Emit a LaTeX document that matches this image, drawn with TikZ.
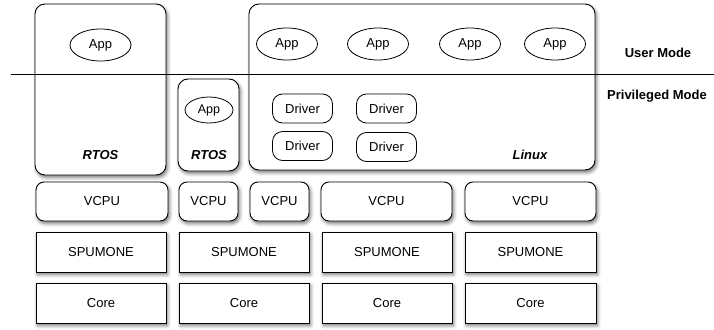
\documentclass[tikz,border=0pt]{standalone}
\usepackage{fontspec}
\setmainfont{Liberation Sans}
\usetikzlibrary{shapes.geometric,shadows.blur}
\begin{document}
\begin{tikzpicture}[x=1pt,y=-1pt,
  every node/.style={font=\fontsize{13}{15}\selectfont, inner sep=0pt},
  shad/.style={blur shadow={shadow xshift=1.5pt, shadow yshift=-2.5pt, shadow blur radius=3.5pt, shadow opacity=55}},
  osbox/.style={draw, line width=0.9pt, fill=white, rounded corners=10pt, shad},
  vbox/.style={draw, line width=0.9pt, fill=white, rounded corners=8pt, minimum height=39pt, shad},
  hwbox/.style={draw, line width=0.9pt, fill=white, minimum height=40pt, shad},
  app/.style={draw, ellipse, line width=0.8pt, fill=white, minimum width=61pt, minimum height=32pt},
  sapp/.style={draw, ellipse, line width=0.8pt, fill=white, minimum width=48pt, minimum height=26pt, font=\fontsize{12.5}{14}\selectfont},
  drv/.style={draw, line width=0.8pt, fill=white, rounded corners=10pt, minimum width=60pt, minimum height=29pt},
  lbl/.style={font=\fontsize{13}{15}\selectfont\bfseries\itshape},
  mode/.style={font=\fontsize{13}{15}\selectfont\bfseries}]
\useasboundingbox (0,0) rectangle (714,329);
% OS boxes
\node[osbox, minimum width=131pt, minimum height=171pt] (rtos1) at (100.5,89.5) {};
\node[osbox, minimum width=61pt, minimum height=92pt] (rtos2) at (208.5,125) {};
\node[osbox, minimum width=346pt, minimum height=166pt] (linux) at (422,87) {};
% mode line
\coordinate (lineL) at (11,74);
\coordinate (lineR) at (714,74);
\draw[line width=0.8pt] (lineL) -- (lineR);
% apps
\node[app] (a1) at (100.5,45) {App};
\node[sapp] (a2) at (209,110) {App};
\node[app] (a3) at (287,44) {App};
\node[app] (a4) at (378,44) {App};
\node[app] (a5) at (470,44) {App};
\node[app] (a6) at (555,44) {App};
% drivers
\node[drv] (d1) at (302.5,108.5) {Driver};
\node[drv] (d2) at (386.5,108.5) {Driver};
\node[drv] (d3) at (302.5,146) {Driver};
\node[drv] (d4) at (386.5,147) {Driver};
% labels
\node[lbl] (l1) at (100.5,155) {RTOS};
\node[lbl] (l2) at (209,155) {RTOS};
\node[lbl] (l3) at (530,155) {Linux};
\node[mode] (um) at (658,53) {User Mode};
\node[mode] (pm) at (657,96) {Privileged Mode};
% VCPU
\node[vbox, minimum width=132pt] (v1) at (102,201.5) {VCPU};
\node[vbox, minimum width=59pt] (v2) at (208.5,201.5) {VCPU};
\node[vbox, minimum width=59pt] (v3) at (279.5,201.5) {VCPU};
\node[vbox, minimum width=131pt] (v4) at (386.5,201.5) {VCPU};
\node[vbox, minimum width=131pt] (v5) at (530.5,201.5) {VCPU};
% SPUMONE
\node[hwbox, minimum width=130pt] (s1) at (101,252) {SPUMONE};
\node[hwbox, minimum width=130pt] (s2) at (244,252) {SPUMONE};
\node[hwbox, minimum width=130pt] (s3) at (387,252) {SPUMONE};
\node[hwbox, minimum width=131pt] (s4) at (530.5,252) {SPUMONE};
% Core
\node[hwbox, minimum width=130pt] (c1) at (101,303) {Core};
\node[hwbox, minimum width=130pt] (c2) at (244,303) {Core};
\node[hwbox, minimum width=130pt] (c3) at (387,303) {Core};
\node[hwbox, minimum width=131pt] (c4) at (530.5,303) {Core};
\end{tikzpicture}
\end{document}
